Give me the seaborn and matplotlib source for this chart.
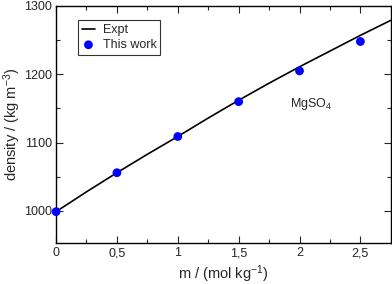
import matplotlib
matplotlib.use("Agg")
import matplotlib.pyplot as plt
import seaborn as sns
from matplotlib.ticker import MultipleLocator, FuncFormatter

expt_m = [0, 0.25, 0.5, 0.75, 1.0, 1.25, 1.5, 1.75, 2.0, 2.25, 2.5, 2.75]
expt_rho = [999, 1028, 1056, 1083, 1109, 1136, 1162, 1187, 1211, 1234, 1257, 1279]

# simulation points
sim_m = [0, 0.5, 1.0, 1.5, 2.0, 2.5]
sim_rho = [999, 1056, 1109, 1160, 1205, 1248]

sns.set_style("ticks")
plt.rcParams['font.family'] = ['Liberation Sans', 'DejaVu Sans']
plt.rcParams['mathtext.fontset'] = 'custom'
plt.rcParams['mathtext.rm'] = 'Liberation Sans'
plt.rcParams['mathtext.it'] = 'Liberation Sans'

fig, ax = plt.subplots(figsize=(3.92, 2.84), dpi=100)
fig.subplots_adjust(left=0.143, right=0.997, top=0.979, bottom=0.144)

sns.lineplot(x=expt_m, y=expt_rho, ax=ax, color="black", linewidth=1.2, label="Expt")
sns.scatterplot(x=sim_m, y=sim_rho, ax=ax, color="#0000ff", s=40, edgecolor="none",
                label="This work", zorder=3, clip_on=False)

ax.set_xlim(0, 2.75)
ax.set_ylim(953, 1300)
ax.xaxis.set_major_locator(MultipleLocator(0.5))
ax.xaxis.set_minor_locator(MultipleLocator(0.25))
ax.yaxis.set_major_locator(MultipleLocator(100))
ax.yaxis.set_minor_locator(MultipleLocator(50))
ax.xaxis.set_major_formatter(FuncFormatter(lambda v, p: ("%g" % v).replace(".", ",")))
ax.tick_params(which="both", direction="in", top=True, right=True, labelsize=9, width=0.8, pad=3)
ax.tick_params(which="major", length=5)
ax.tick_params(which="minor", length=3)
for s in ax.spines.values():
    s.set_linewidth(1.0)
    s.set_color("black")

ax.set_xlabel("m / (mol kg$^{-1}$)", fontsize=10.5, labelpad=3)
ax.set_ylabel("density / (kg m$^{-3}$)", fontsize=10.5, labelpad=1)
ax.text(1.92, 1152, "MgSO$_4$", fontsize=9)

leg = ax.legend(loc="upper left", bbox_to_anchor=(0.065, 0.94), fontsize=9, frameon=True,
                fancybox=False, edgecolor="black", borderpad=0.3, handlelength=1.1,
                handletextpad=0.6, labelspacing=0.25, borderaxespad=0)
leg.get_frame().set_linewidth(0.8)

fig.savefig("out.png", dpi=100)
